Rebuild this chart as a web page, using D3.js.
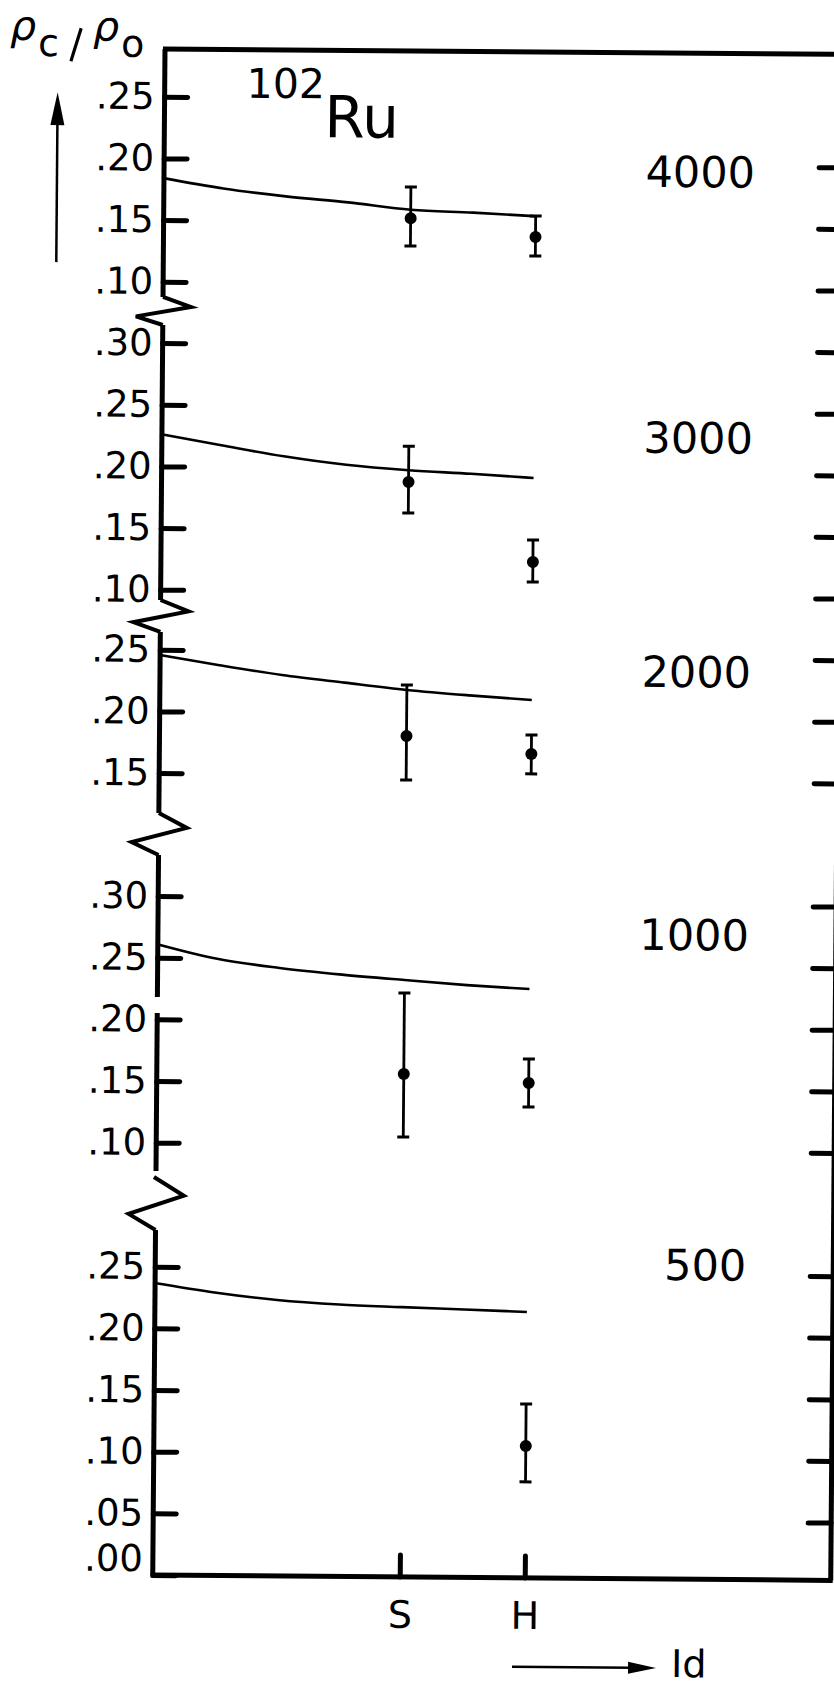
<!DOCTYPE html>
<html lang="en">
<head>
<meta charset="UTF-8" />
<title>102Ru - rho_c / rho_o</title>
<script src="https://d3js.org/d3.v7.min.js"></script>
<style>
  body { margin: 0; background: #fff; }
  svg { display: block; background: #fff; font-family: "DejaVu Sans", sans-serif; }
  .yax .tick text { font-size: 37px; font-family: "DejaVu Sans", sans-serif; fill: #000; }
  .xax .tick text { font-size: 38px; font-family: "DejaVu Sans", sans-serif; fill: #000; }
  .tick line { stroke: #000; stroke-width: 5; stroke-linecap: round; }
</style>
</head>
<body>
<div id="chart"></div>
<script>
// values
const panelLabels = ["4000", "3000", "2000", "1000", "500"];
const yTicks = [
  [0.10, 0.15, 0.20, 0.25],
  [0.10, 0.15, 0.20, 0.25, 0.30],
  [0.15, 0.20, 0.25],
  [0.10, 0.15, 0.20, 0.25, 0.30],
  [0.00, 0.05, 0.10, 0.15, 0.20, 0.25]
];
const methods = ["S", "H"];
const methodPos = [1, 2];

// theory curves, sampled along the Id axis
const curveX = [-0.98, -0.5, 0, 0.5, 1, 1.5, 2];
const curves = [
  [0.184, 0.176, 0.170, 0.1655, 0.160, 0.158, 0.1555],
  [0.226, 0.2175, 0.209, 0.2025, 0.1985, 0.196, 0.193],
  [0.2457, 0.2378, 0.2303, 0.2245, 0.219, 0.215, 0.2117],
  [0.261, 0.2495, 0.2425, 0.2375, 0.2335, 0.2298, 0.227],
  [0.2368, 0.2295, 0.2238, 0.2205, 0.2188, 0.2173, 0.2157]
];

// measured points (value, lower and upper end of the bar), null = no point
const sValues = [0.153, 0.189, 0.1817, 0.1573, null];
const sLow = [0.1306, 0.1638, 0.146, 0.1062, null];
const sHigh = [0.1784, 0.218, 0.223, 0.223, null];
const hValues = [0.1387, 0.1249, 0.1679, 0.1508, 0.107];
const hLow = [0.1233, 0.1087, 0.1517, 0.1314, 0.0779];
const hHigh = [0.1557, 0.1427, 0.1833, 0.1703, 0.1411];

// unlabelled ticks on the right frame
const rightTicks = [0, 1, 2, 3, 4, 5, 6, 7, 8, 9, 10, 12, 13, 14, 15, 16, 18, 19, 20, 21, 22];

// layout
const W = 834, H = 1688;
const frameL = 165, frameR = 843, frameT = 49, frameB = 1575;
const unit = 1233; // px for 1.0 of rho_c/rho_o
const panels = [
  { base: 405, y0: 49, y1: 297, brk: 297, label: 183 },
  { base: 713, y0: 325, y1: 600, brk: 600, label: 449 },
  { base: 958, y0: 632, y1: 813, brk: 813, label: 683 },
  { base: 1266, y0: 855, y1: 1171, brk: 1177, gap: [997, 1013], label: 946 },
  { base: 1575, y0: 1230, y1: 1575, label: 1276 }
];

const svg = d3.select("#chart").append("svg")
  .attr("width", W)
  .attr("height", H);

// the scan is turned a little, so the whole drawing is too
const g = svg.append("g")
  .attr("transform", `rotate(0.46 ${frameL} ${frameT})`);

const x = d3.scaleLinear().domain([1, 2]).range([412, 537]);

const fmt = d => d3.format(".2f")(d).replace(/^0/, "");

// frame: top, right, bottom
g.append("line")
  .attr("x1", frameL - 2).attr("x2", frameR)
  .attr("y1", frameT).attr("y2", frameT)
  .attr("stroke", "#000").attr("stroke-width", 5);
g.append("line")
  .attr("x1", frameR).attr("x2", frameR)
  .attr("y1", frameT).attr("y2", frameB)
  .attr("stroke", "#000").attr("stroke-width", 5);
g.append("line")
  .attr("x1", frameL - 2).attr("x2", frameR + 2)
  .attr("y1", frameB).attr("y2", frameB)
  .attr("stroke", "#000").attr("stroke-width", 5);

// right ticks
const yR = d3.scaleLinear().domain([0, 23]).range([162, 1578.8]);
g.append("g")
  .attr("transform", `translate(${frameR},0)`)
  .call(d3.axisRight(yR).tickValues(rightTicks).tickSizeInner(-23).tickSizeOuter(0).tickFormat(""))
  .call(a => a.select(".domain").remove());

const line = d3.line().curve(d3.curveMonotoneX);

panels.forEach((p, i) => {
  const y = d3.scaleLinear()
    .domain([(p.base - p.y1) / unit, (p.base - p.y0) / unit])
    .range([p.y1, p.y0]);

  // left axis segments
  const segs = p.gap ? [[p.y0, p.gap[0]], [p.gap[1], p.y1]] : [[p.y0, p.y1]];
  segs.forEach(s => {
    g.append("line")
      .attr("x1", frameL).attr("x2", frameL)
      .attr("y1", s[0]).attr("y2", s[1])
      .attr("stroke", "#000").attr("stroke-width", 5);
  });

  const ax = g.append("g")
    .attr("class", "yax")
    .attr("transform", `translate(${frameL},0)`)
    .call(d3.axisLeft(y).tickValues(yTicks[i]).tickSizeInner(-23).tickSizeOuter(0).tickPadding(10).tickFormat(fmt))
    .call(a => a.select(".domain").remove());
  ax.selectAll(".tick").filter(d => d === 0).select("text").attr("y", -16);

  // axis break to the next panel
  if (i < panels.length - 1) {
    const y0 = p.brk, y1 = panels[i + 1].y0, h = y1 - y0;
    g.append("polyline")
      .attr("points", [[frameL - (p.gap ? 2 : 0), y0], [frameL + 28, y0 + 0.35 * h], [frameL - 27, y0 + 0.7 * h], [frameL, y1]].join(" "))
      .attr("fill", "none")
      .attr("stroke", "#000")
      .attr("stroke-width", 4)
      .attr("stroke-linejoin", "miter");
  }

  // theory curve
  g.append("path")
    .attr("d", line(curveX.map((cx, k) => [x(cx), y(curves[i][k])])))
    .attr("fill", "none")
    .attr("stroke", "#000")
    .attr("stroke-width", 2.6);

  // measured points with error bars
  const pts = [
    { m: 1, v: sValues[i], lo: sLow[i], hi: sHigh[i] },
    { m: 2, v: hValues[i], lo: hLow[i], hi: hHigh[i] }
  ].filter(d => d.v !== null);

  const pg = g.append("g").selectAll("g").data(pts).join("g");
  pg.append("line")
    .attr("x1", d => x(d.m)).attr("x2", d => x(d.m))
    .attr("y1", d => y(d.lo)).attr("y2", d => y(d.hi))
    .attr("stroke", "#000").attr("stroke-width", 2.8);
  pg.selectAll(".cap").data(d => [{ m: d.m, v: d.lo }, { m: d.m, v: d.hi }]).join("line")
    .attr("class", "cap")
    .attr("x1", d => x(d.m) - 6).attr("x2", d => x(d.m) + 6)
    .attr("y1", d => y(d.v)).attr("y2", d => y(d.v))
    .attr("stroke", "#000").attr("stroke-width", 3);
  pg.append("circle")
    .attr("cx", d => x(d.m)).attr("cy", d => y(d.v))
    .attr("r", 6)
    .attr("fill", "#000");

  // panel label
  g.append("text")
    .attr("x", 756).attr("y", p.label)
    .attr("text-anchor", "end")
    .attr("font-size", 43)
    .text(panelLabels[i]);
});

// bottom axis S / H
g.append("g")
  .attr("class", "xax")
  .attr("transform", `translate(0,${frameB})`)
  .call(d3.axisBottom(x).tickValues(methodPos).tickSizeInner(-22).tickSizeOuter(0).tickPadding(24)
    .tickFormat((d, k) => methods[k]))
  .call(a => a.select(".domain").remove());

// Id arrow
g.append("line")
  .attr("x1", 525).attr("x2", 645)
  .attr("y1", 1664).attr("y2", 1664)
  .attr("stroke", "#000").attr("stroke-width", 2.5);
g.append("polygon")
  .attr("points", "669,1664 641,1658 641,1670")
  .attr("fill", "#000");
g.append("text")
  .attr("x", 684).attr("y", 1673)
  .attr("font-size", 38)
  .text("Id");

// vertical arrow and axis title
g.append("line")
  .attr("x1", 58).attr("x2", 58)
  .attr("y1", 263).attr("y2", 118)
  .attr("stroke", "#000").attr("stroke-width", 2.5);
g.append("polygon")
  .attr("points", "58,93 51,126 65,126")
  .attr("fill", "#000");

g.append("text").attr("x", 10).attr("y", 41).attr("font-size", 41).attr("font-style", "italic").text("ρ");
g.append("text").attr("x", 38).attr("y", 57).attr("font-size", 38).text("c");
g.append("line")
  .attr("x1", 81).attr("y1", 29).attr("x2", 71).attr("y2", 62)
  .attr("stroke", "#000").attr("stroke-width", 3.2);
g.append("text").attr("x", 93).attr("y", 41).attr("font-size", 41).attr("font-style", "italic").text("ρ");
g.append("text").attr("x", 121).attr("y", 57).attr("font-size", 38).text("o");

// nucleus
g.append("text").attr("x", 247).attr("y", 97).attr("font-size", 41).text("102");
g.append("text").attr("x", 325).attr("y", 136).attr("font-size", 58).text("Ru");
</script>
</body>
</html>
